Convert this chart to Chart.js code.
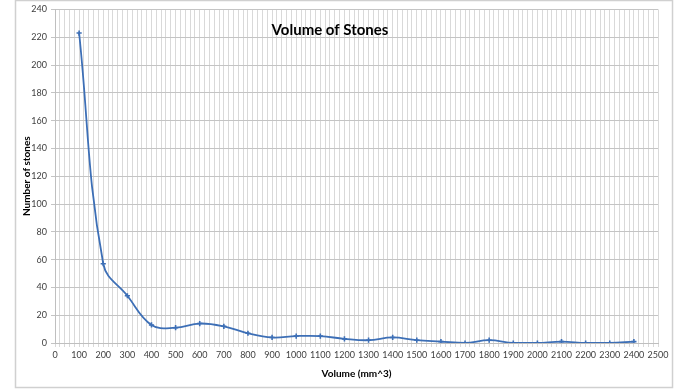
<!DOCTYPE html>
<html><head><meta charset="utf-8">
<script src="https://cdn.jsdelivr.net/npm/chart.js@4/dist/chart.umd.min.js"></script>
<style>html,body{margin:0;padding:0;background:#fff}#wrap{width:690px;height:390px;position:relative}</style>
</head><body><div id="wrap"><canvas id="c" width="690" height="390"></canvas></div>
<script>
const volumes = [100,200,300,400,500,600,700,800,900,1000,1100,1200,1300,1400,1500,1600,1700,1800,1900,2000,2100,2200,2300,2400];
const counts  = [223,57,34,13,11,14,12,7,4,5,5,3,2,4,2,1,0,2,0,0,1,0,0,1];
const chartTitle = 'Volume of Stones';
const xTitle = 'Volume (mm^3)';
const yTitle = 'Number of stones';

const framePlugin = {
  id:'frame',
  beforeDraw(chart){
    const ctx = chart.ctx;
    ctx.save();
    ctx.fillStyle = '#fff';
    ctx.fillRect(0,0,chart.width,chart.height);
    ctx.strokeStyle = '#d0d0d0';
    ctx.lineWidth = 1.5;
    ctx.strokeRect(15.5,0.5,657,387);
    ctx.restore();
  },
  afterDraw(chart){
    const ctx = chart.ctx;
    ctx.save();
    ctx.font = 'bold 15px Lato, "Liberation Sans", sans-serif';
    ctx.fillStyle = '#000';
    ctx.textAlign = 'center';
    ctx.textBaseline = 'middle';
    ctx.fillText(chartTitle, 330, 30);
    ctx.restore();
  }
};

new Chart(document.getElementById('c'), {
  type:'line',
  data:{datasets:[{
    data: volumes.map((v,i)=>({x:v,y:counts[i]})),
    borderColor:'#3d6fb6',
    backgroundColor:'#3d6fb6',
    borderWidth:1.8,
    tension:0.4,
    pointStyle:'cross',
    pointRadius:2.6,
    pointBorderWidth:1.6,
    fill:false
  }]},
  options:{
    responsive:false,
    animation:false,
    events:[],
    layout:{padding:{left:15,right:32,top:8,bottom:8}},
    plugins:{legend:{display:false},tooltip:{enabled:false},title:{display:false}},
    scales:{
      x:{
        type:'linear', min:0, max:2500,
        afterFit(s){ s.height = 39; },
        ticks:{stepSize:20, autoSkip:false, maxRotation:0, minRotation:0,
          callback:(v)=> (v%100===0 ? String(v) : ''),
          font:{size:9, family:'Lato, "Liberation Sans", sans-serif'}, color:'#404040', padding:3},
        grid:{color:'#d9d9d9', lineWidth:1, drawTicks:true, tickLength:4},
        border:{color:'#bfbfbf'},
        title:{display:true, text:xTitle, font:{size:10, weight:'bold', family:'Lato, "Liberation Sans", sans-serif'}, color:'#000', padding:{top:4,bottom:2}}
      },
      y:{
        min:0, max:240,
        afterFit(s){ s.width = 40; },
        ticks:{stepSize:20, font:{size:9, family:'Lato, "Liberation Sans", sans-serif'}, color:'#404040', padding:4},
        grid:{color:'#c4c4c4', lineWidth:1, tickLength:4},
        border:{color:'#bfbfbf'},
        title:{display:true, text:yTitle, font:{size:10, weight:'bold', family:'Lato, "Liberation Sans", sans-serif'}, color:'#000', padding:{top:6,bottom:0}}
      }
    }
  },
  plugins:[framePlugin]
});
</script></body></html>
